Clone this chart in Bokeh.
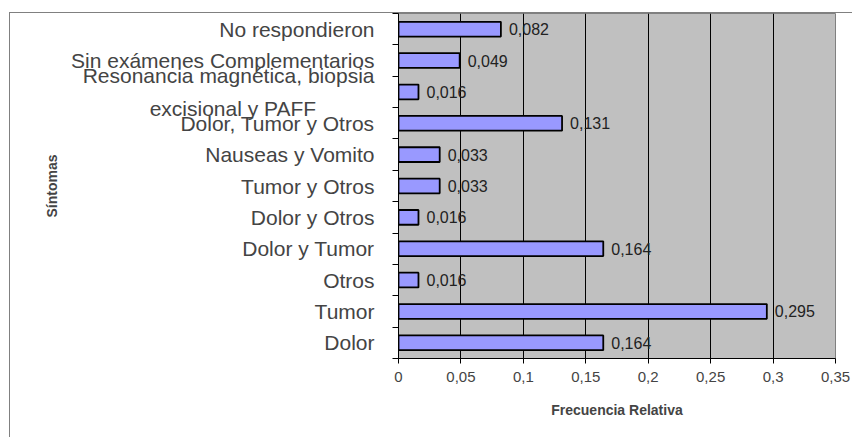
from bokeh.plotting import figure
from bokeh.models import ColumnDataSource, Range1d, FixedTicker
from bokeh.core.properties import value
from bokeh.embed import file_html
from bokeh.resources import INLINE

categories = [
    "Dolor",
    "Tumor",
    "Otros",
    "Dolor y Tumor",
    "Dolor y Otros",
    "Tumor y Otros",
    "Nauseas y Vomito",
    "Dolor, Tumor y Otros",
    "Resonancia magnética, biopsia\nexcisional y PAFF",
    "Sin exámenes Complementarios",
    "No respondieron",
]
values = [0.164, 0.295, 0.016, 0.164, 0.016, 0.033, 0.033, 0.131, 0.016, 0.049, 0.082]
x_ticks = [0, 0.05, 0.1, 0.15, 0.2, 0.25, 0.3, 0.35]
x_tick_labels = ["0", "0,05", "0,1", "0,15", "0,2", "0,25", "0,3", "0,35"]

FONT = "Liberation Sans"

ypos = [i + 0.5 for i in range(len(categories))]
labels = [f"{v:.3f}".replace(".", ",") for v in values]
src = ColumnDataSource(dict(y=ypos, v=values, lbl=labels))


def axis_text(c):
    # centre the second line of a two-line label under the first one
    if "\n" in c:
        a, b = c.split("\n")
        return a + "\n" + b + "\u00a0" * 10
    return c


p = figure(
    width=843, height=425,
    output_backend="svg", toolbar_location=None,
    x_range=Range1d(0, 0.35), y_range=Range1d(0, len(categories)),
    min_border_left=388, min_border_right=18, min_border_top=0, min_border_bottom=80,
)
p.margin = (12, 0, 0, 9)
p.styles = {"border-top": "1px solid #808080", "border-left": "1px solid #808080"}

p.background_fill_color = "#C0C0C0"
p.border_fill_color = "white"
p.outline_line_color = "#808080"
p.outline_line_width = 1

p.hbar(y="y", right="v", left=0, height=0.47, source=src,
       fill_color="#9999FF", line_color="black", line_width=1.8)
p.text(x="v", y="y", text="lbl", source=src, x_offset=8, text_baseline="middle",
       text_font=value(FONT), text_font_size="16px", text_color="#222222")

# x axis
p.xaxis.ticker = FixedTicker(ticks=x_ticks)
p.xaxis.major_label_overrides = {t: l for t, l in zip(x_ticks, x_tick_labels)}
p.xaxis.axis_label = "Frecuencia Relativa"
p.xaxis.axis_label_text_font = FONT
p.xaxis.axis_label_text_font_style = "bold"
p.xaxis.axis_label_text_font_size = "14px"
p.xaxis.axis_label_standoff = 17
p.xaxis.major_label_text_font = FONT
p.xaxis.major_label_text_font_size = "15px"
p.xaxis.major_label_standoff = 8
p.xaxis.major_tick_out = 5
p.xaxis.major_tick_in = 0
p.xaxis.minor_tick_out = 0
p.xaxis.axis_line_color = "black"
p.xaxis.major_tick_line_color = "black"

# y axis
p.yaxis.ticker = FixedTicker(ticks=ypos, minor_ticks=list(range(len(categories) + 1)))
p.yaxis.major_label_overrides = {y: axis_text(c) for y, c in zip(ypos, categories)}
p.yaxis.axis_label = "Síntomas"
p.yaxis.axis_label_text_font = FONT
p.yaxis.axis_label_text_font_style = "bold"
p.yaxis.axis_label_text_font_size = "14px"
p.yaxis.axis_label_standoff = 8
p.yaxis.major_label_text_font = FONT
p.yaxis.major_label_text_font_size = "21px"
p.yaxis.major_label_text_line_height = 1.4
p.yaxis.major_label_standoff = 18
p.yaxis.major_tick_out = 0
p.yaxis.major_tick_in = 0
p.yaxis.minor_tick_out = 6
p.yaxis.minor_tick_in = 0
p.yaxis.minor_tick_line_color = "black"
p.yaxis.axis_line_color = "black"

p.xgrid.ticker = FixedTicker(ticks=x_ticks)
p.xgrid.grid_line_color = "black"
p.xgrid.grid_line_width = 1
p.ygrid.grid_line_color = None

open("out.html", "w").write(file_html(p, INLINE))
